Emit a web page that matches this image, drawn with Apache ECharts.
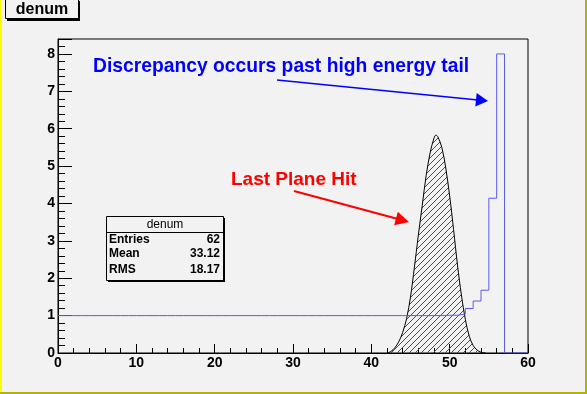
<!DOCTYPE html>
<html><head><meta charset="utf-8">
<script src="https://cdn.jsdelivr.net/npm/echarts@6/dist/echarts.min.js"></script>
<style>html,body{margin:0;padding:0;background:#f2f2f2;overflow:hidden}#c{width:587px;height:394px}</style>
</head><body><div id="c"></div>
<script>
// Histogram "denum": 60 bins of width 1 over [0,60]
const histValues = [
  1,1,1,1,1,1,1,1,1,1,
  1,1,1,1,1,1,1,1,1,1,
  1,1,1,1,1,1,1,1,1,1,
  1,1,1,1,1,1,1,1,1,1,
  1,1,1,1,1,1,1,1,1,1.01,
  1.01,1.04,1.19,1.39,1.68,4.14,8.0,0,0,0
];
// "Last Plane Hit" curve
const curveX = [42,42.5,43,43.5,44,44.5,45,45.5,46,46.5,47,47.5,48,48.25,48.5,49,49.5,50,50.5,51,51.5,52,52.5,53,53.5,54,54.6];
const curveY = [0,0.04,0.14,0.3,0.55,0.92,1.5,2.3,3.15,3.95,4.75,5.35,5.75,5.83,5.78,5.5,4.95,4.2,3.3,2.35,1.55,0.9,0.45,0.2,0.08,0.02,0];
// Axis ticks
const xTicks = [0,10,20,30,40,50,60];
const yTicks = [0,1,2,3,4,5,6,7,8];
// Stats box
const statsTitle = 'denum';
const statsNames = ['Entries','Mean','RMS'];
const statsValues = ['62','33.12','18.17'];
const histTitle = 'denum';
const note1 = 'Discrepancy occurs past high energy tail';
const note2 = 'Last Plane Hit';

const histData = histValues.map((v,i)=>[i,v]);
histData.push([histValues.length, histValues[histValues.length-1]]);
const curveData = curveX.map((x,i)=>[x,curveY[i]]);

// red hatch pattern (////)
const pc = document.createElement('canvas');
pc.width = 6; pc.height = 6;
const pctx = pc.getContext('2d');
pctx.fillStyle = '#ff0000';
for (let i=0;i<6;i++) pctx.fillRect(i,5-i,1,1);

const FONT = 'Liberation Sans, Arial, sans-serif';
const chart = echarts.init(document.getElementById('c'), null, {renderer:'canvas'});

function arrowHead(tip, base, half){
  const dx = tip[0]-base[0], dy = tip[1]-base[1];
  const L = Math.hypot(dx,dy);
  const px = -dy/L*half, py = dx/L*half;
  return [tip,[base[0]+px,base[1]+py],[base[0]-px,base[1]-py]];
}

chart.setOption({
  backgroundColor:'#f2f2f2',
  animation:false,
  grid:{left:58,right:59,top:39,bottom:41,show:true,borderColor:'#000',borderWidth:1,backgroundColor:'transparent'},
  xAxis:{type:'value',min:xTicks[0],max:xTicks[xTicks.length-1],interval:10,
    axisLine:{show:true,onZero:false,lineStyle:{color:'#000',width:1}},
    axisTick:{show:true,inside:true,length:9,lineStyle:{color:'#000'}},
    minorTick:{show:true,splitNumber:5,length:5,lineStyle:{color:'#000'}},
    splitLine:{show:false},
    axisLabel:{color:'#000',fontFamily:FONT,fontWeight:'bold',fontSize:14,margin:3,
      formatter:v=>xTicks.includes(v)?String(v):''}
  },
  yAxis:{type:'value',min:0,max:8.4,interval:1,
    axisLine:{show:true,onZero:false,lineStyle:{color:'#000',width:1}},
    axisTick:{show:true,inside:true,length:14,lineStyle:{color:'#000'}},
    minorTick:{show:true,splitNumber:5,length:7,lineStyle:{color:'#000'}},
    splitLine:{show:false},
    axisLabel:{color:'#000',fontFamily:FONT,fontWeight:'bold',fontSize:14,margin:3,
      formatter:v=>yTicks.includes(v)?String(v):''}
  },
  series:[
    {type:'line',data:curveData,smooth:0.35,symbol:'none',z:2,
      lineStyle:{color:'#000',width:1},
      areaStyle:{color:{image:pc,repeat:'repeat'},opacity:1,origin:'start'}},
    {type:'line',data:histData,step:'end',symbol:'none',z:3,
      lineStyle:{color:'#5b5bea',width:1}}
  ],
  graphic:[
    {type:'rect',shape:{x:0,y:0,width:2,height:394},style:{fill:'#ffff00'},z:100},
    {type:'rect',shape:{x:585,y:0,width:2,height:394},style:{fill:'#b4b400'},z:100},
    {type:'rect',shape:{x:0,y:392,width:587,height:2},style:{fill:'#b4b400'},z:100},
    // title box
    {type:'rect',shape:{x:7,y:1,width:73,height:20},style:{fill:'#000'},z:100},
    {type:'rect',shape:{x:5.5,y:-1.5,width:73,height:20},style:{fill:'#f2f2f2',stroke:'#000',lineWidth:1},z:101},
    {type:'text',x:42,y:10,z:102,style:{text:histTitle,fill:'#000',font:'bold 16px '+FONT,align:'center',verticalAlign:'middle'}},
    // stats box
    {type:'rect',shape:{x:108,y:218,width:117,height:64},style:{fill:'#000'},z:100},
    {type:'rect',shape:{x:106.5,y:216.5,width:117,height:64},style:{fill:'#f2f2f2',stroke:'#000',lineWidth:1},z:101},
    {type:'line',shape:{x1:106.5,y1:232.5,x2:223.5,y2:232.5},style:{stroke:'#000',lineWidth:1},z:102},
    {type:'text',x:165,y:224.5,z:102,style:{text:statsTitle,fill:'#000',font:'12px '+FONT,align:'center',verticalAlign:'middle'}},
    ...statsNames.map((n,i)=>({type:'text',x:109,y:[240,254,270][i],z:102,style:{text:n,fill:'#000',font:'bold 12px '+FONT,align:'left',verticalAlign:'middle'}})),
    ...statsValues.map((n,i)=>({type:'text',x:220,y:[240,254,270][i],z:102,style:{text:n,fill:'#000',font:'bold 12px '+FONT,align:'right',verticalAlign:'middle'}})),
    // annotations
    {type:'text',x:93,y:67,z:102,style:{text:note1,fill:'#0000ff',font:'bold 19.3px '+FONT,align:'left',verticalAlign:'middle'}},
    {type:'line',shape:{x1:277,y1:80,x2:478,y2:100},style:{stroke:'#0000ff',lineWidth:1.5},z:102},
    {type:'polygon',shape:{points:arrowHead([488,101],[476,99.8],6.8)},style:{fill:'#0000ff'},z:102},
    {type:'text',x:231,y:180,z:102,style:{text:note2,fill:'#ff0000',font:'bold 19px '+FONT,align:'left',verticalAlign:'middle'}},
    {type:'line',shape:{x1:294,y1:191,x2:398,y2:219},style:{stroke:'#ff0000',lineWidth:2},z:102},
    {type:'polygon',shape:{points:arrowHead([409,222],[396,218.5],7)},style:{fill:'#ff0000'},z:102}
  ]
});
</script>
</body></html>
